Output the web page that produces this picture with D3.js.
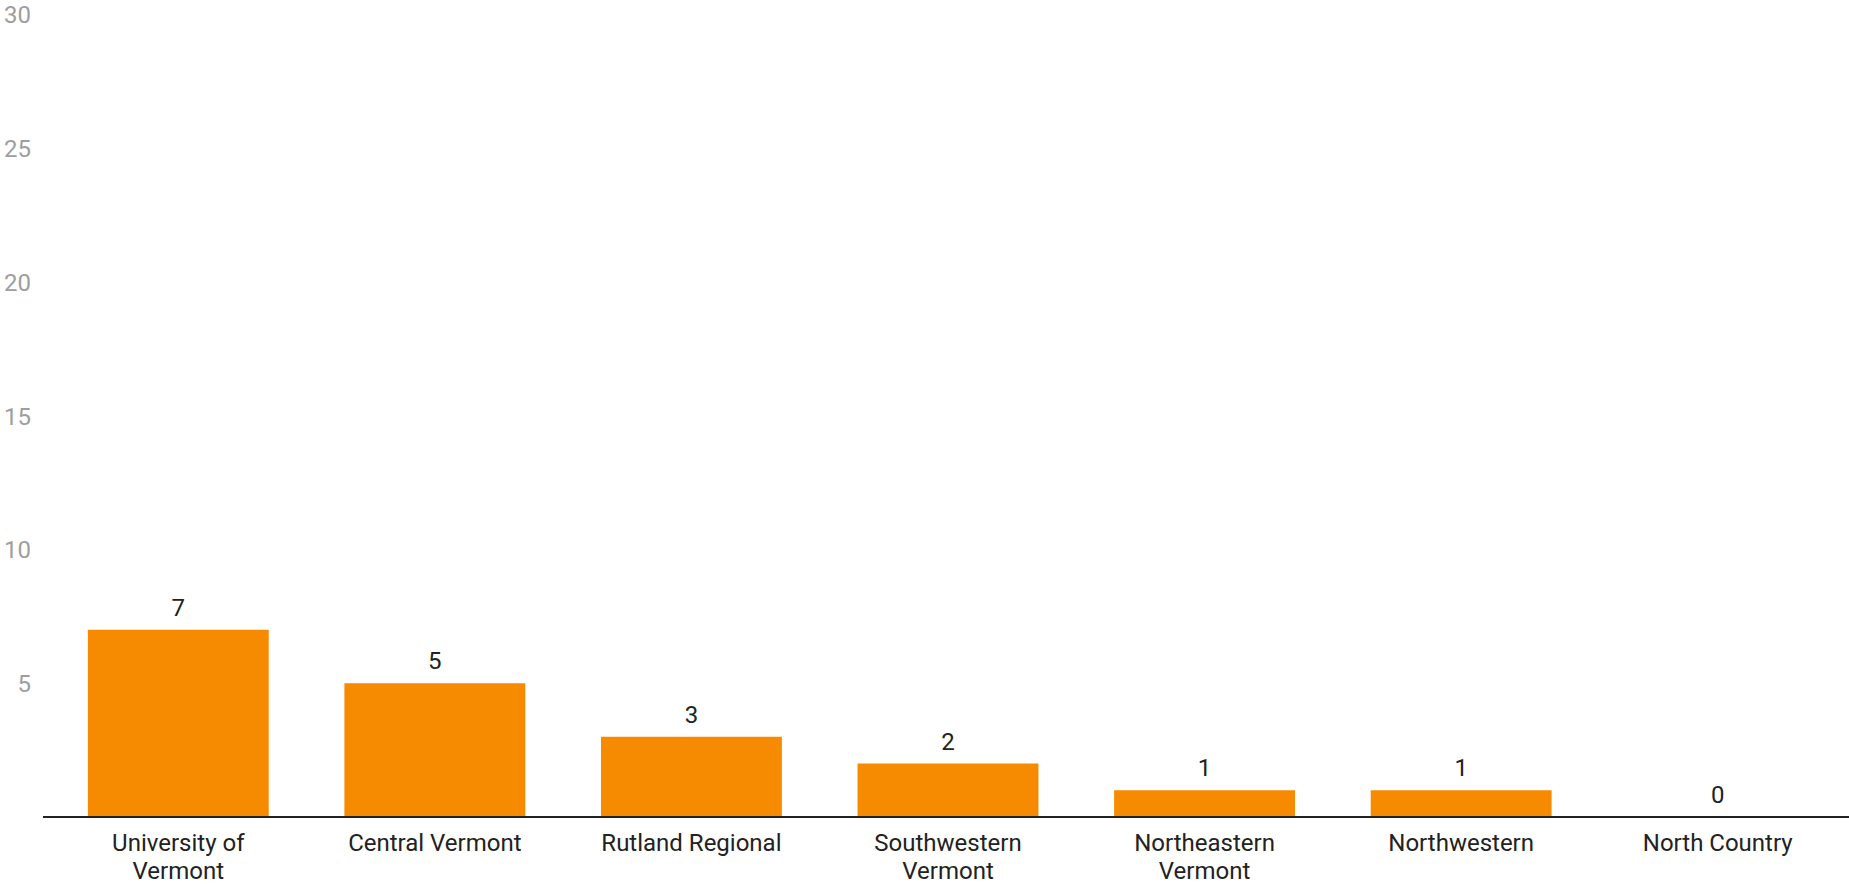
<!DOCTYPE html>
<html>
<head>
<meta charset="utf-8">
<script src="https://cdn.jsdelivr.net/npm/d3@7"></script>
<style>
  html, body { margin: 0; padding: 0; background: #fff; }
  svg { display: block; font-family: Roboto, "Noto Sans", sans-serif; }
</style>
</head>
<body>
<svg id="chart" width="1849" height="884"></svg>
<script>
const categories = ["University of Vermont", "Central Vermont", "Rutland Regional", "Southwestern Vermont", "Northeastern Vermont", "Northwestern", "North Country"];
const values = [7, 5, 3, 2, 1, 1, 0];
const yTicks = [5, 10, 15, 20, 25, 30];

const W = 1849, H = 884;
const FS = 24;
const svg = d3.select("#chart");

const x = d3.scaleBand().domain(categories).range([50, 1846]).paddingInner(0.295).paddingOuter(0.1475);
const y = d3.scaleLinear().domain([0, 30]).range([817, 14.5]);

// y labels
const yAxis = d3.axisLeft(y).tickValues(yTicks).tickSize(0).tickPadding(0);
const gy = svg.append("g").attr("transform", "translate(31,0)").call(yAxis);
gy.select(".domain").remove();
gy.selectAll("text")
  .attr("font-size", FS).attr("font-family", "Roboto, sans-serif")
  .attr("fill", "#9e9e9e").attr("dy", "0.35em");

// bars
svg.append("g").selectAll("rect").data(values).join("rect")
  .attr("x", (d, i) => x(categories[i]))
  .attr("width", x.bandwidth())
  .attr("y", d => y(d))
  .attr("height", d => y(0) - y(d))
  .attr("fill", "#f68a00");

// value labels
svg.append("g").selectAll("text").data(values).join("text")
  .attr("x", (d, i) => x(categories[i]) + x.bandwidth() / 2)
  .attr("y", d => y(d) - 14)
  .attr("text-anchor", "middle")
  .attr("font-size", FS)
  .attr("fill", "#222")
  .text(d => d);

// baseline axis
const xAxis = d3.axisBottom(x).tickSize(0).tickPadding(0);
const gx = svg.append("g").attr("transform", `translate(0,${y(0)})`).call(xAxis);
gx.select(".domain").remove();
svg.append("line")
  .attr("x1", 43).attr("x2", W)
  .attr("y1", y(0)).attr("y2", y(0))
  .attr("stroke", "#222").attr("stroke-width", 2);

gx.selectAll("text")
  .attr("font-size", FS).attr("font-family", "Roboto, sans-serif")
  .attr("fill", "#222").attr("dy", 0).attr("y", 34)
  .each(function(d) {
    const t = d3.select(this);
    const words = d.split(" ");
    t.text(null);
    let line = [];
    let lineNo = 0;
    let tspan = t.append("tspan").attr("x", 0).attr("y", 34);
    for (const w of words) {
      line.push(w);
      tspan.text(line.join(" "));
      if (tspan.node().getComputedTextLength() > x.bandwidth() + 5 && line.length > 1) {
        line.pop();
        tspan.text(line.join(" "));
        line = [w];
        lineNo++;
        tspan = t.append("tspan").attr("x", 0).attr("y", 34 + lineNo * 28).text(w);
      }
    }
  });
</script>
</body>
</html>
